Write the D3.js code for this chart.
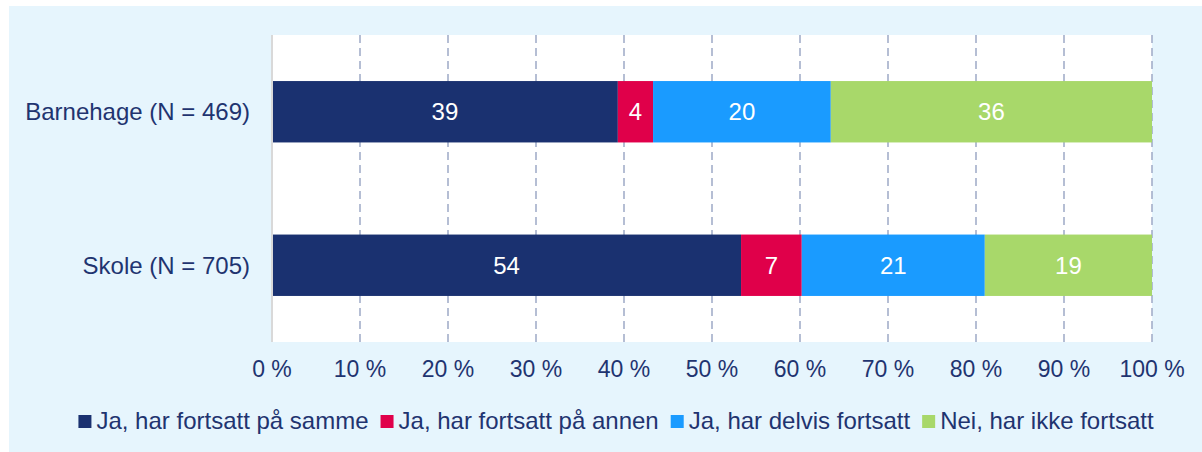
<!DOCTYPE html>
<html>
<head>
<meta charset="utf-8">
<script src="https://cdn.jsdelivr.net/npm/d3@7"></script>
<style>
  body { margin: 0; background: #fff; }
  text { font-family: "Liberation Sans", Arial, sans-serif; }
</style>
</head>
<body>
<div id="chart"></div>
<script>
const width = 1202;
const height = 452;
const margins = {left: 272, right: 50, top: 35, bottom: 110};

// data
const categories = ["Barnehage (N = 469)", "Skole (N = 705)"];
const seriesNames = ["Ja, har fortsatt på samme", "Ja, har fortsatt på annen", "Ja, har delvis fortsatt", "Nei, har ikke fortsatt"];
const colors = ["#1a3170", "#e0004a", "#1a9bff", "#a8d86a"];
const barnehageValues = [39.3, 4.0, 20.2, 36.5];
const skoleValues = [53.3, 6.9, 20.8, 19.0];
const barnehageLabels = ["39", "4", "20", "36"];
const skoleLabels = ["54", "7", "21", "19"];
const ticks = [0, 10, 20, 30, 40, 50, 60, 70, 80, 90, 100];

const rows = [
  {name: categories[0], values: barnehageValues, labels: barnehageLabels},
  {name: categories[1], values: skoleValues, labels: skoleLabels}
];

const textColor = "#1f3470";

const svg = d3.select("#chart")
  .append("svg")
    .attr("width", width)
    .attr("height", height);

// light blue panel
svg.append("rect")
  .attr("x", 9).attr("y", 6)
  .attr("width", width - 9).attr("height", height - 6)
  .attr("fill", "#e6f5fd");

// white plot area
svg.append("rect")
  .attr("x", margins.left).attr("y", margins.top)
  .attr("width", width - margins.left - margins.right)
  .attr("height", height - margins.top - margins.bottom)
  .attr("fill", "#fff");

const X_SCALE = d3.scaleLinear()
  .domain([0, 100])
  .range([margins.left, width - margins.right]);

const Y_SCALE = d3.scaleBand()
  .domain(categories)
  .range([margins.top, height - margins.bottom])
  .paddingInner(0.6)
  .paddingOuter(0.3);

// dashed gridlines
svg.append("g")
  .selectAll("line")
  .data(ticks.slice(1))
  .enter()
  .append("line")
    .attr("x1", d => X_SCALE(d)).attr("x2", d => X_SCALE(d))
    .attr("y1", margins.top).attr("y2", height - margins.bottom)
    .attr("stroke", "#a3aeca")
    .attr("stroke-width", 1.6)
    .attr("stroke-dasharray", "8,5");

// bars
rows.forEach(row => {
  let start = 0;
  const segs = row.values.map((v, i) => {
    const s = {x0: start, x1: start + v, color: colors[i], label: row.labels[i]};
    start += v;
    return s;
  });
  const g = svg.append("g");
  g.selectAll("rect")
    .data(segs)
    .enter()
    .append("rect")
      .attr("x", d => X_SCALE(d.x0))
      .attr("y", Y_SCALE(row.name))
      .attr("width", d => X_SCALE(d.x1) - X_SCALE(d.x0))
      .attr("height", Y_SCALE.bandwidth())
      .attr("fill", d => d.color);
  g.selectAll("text")
    .data(segs)
    .enter()
    .append("text")
      .attr("x", d => (X_SCALE(d.x0) + X_SCALE(d.x1)) / 2)
      .attr("y", Y_SCALE(row.name) + Y_SCALE.bandwidth() / 2)
      .attr("dy", "0.35em")
      .attr("text-anchor", "middle")
      .attr("fill", "#fff")
      .attr("font-size", "24px")
      .text(d => d.label);
});

// left axis line
svg.append("line")
  .attr("x1", margins.left).attr("x2", margins.left)
  .attr("y1", margins.top).attr("y2", height - margins.bottom)
  .attr("stroke", "#d9d9d9")
  .attr("stroke-width", 2);

// category labels
svg.append("g")
  .selectAll("text")
  .data(categories)
  .enter()
  .append("text")
    .attr("x", margins.left - 22)
    .attr("y", d => Y_SCALE(d) + Y_SCALE.bandwidth() / 2)
    .attr("dy", "0.35em")
    .attr("text-anchor", "end")
    .attr("fill", textColor)
    .attr("font-size", "24px")
    .text(d => d);

// x tick labels
svg.append("g")
  .selectAll("text")
  .data(ticks)
  .enter()
  .append("text")
    .attr("x", d => X_SCALE(d))
    .attr("y", 377)
    .attr("text-anchor", "middle")
    .attr("fill", textColor)
    .attr("font-size", "23px")
    .text(d => d + " %");

// legend
const legend = svg.append("g");
let lx = 0;
seriesNames.forEach((name, i) => {
  const item = legend.append("g").attr("transform", "translate(" + lx + ",0)");
  item.append("rect")
    .attr("x", 0).attr("y", 415)
    .attr("width", 13).attr("height", 13)
    .attr("fill", colors[i]);
  const t = item.append("text")
    .attr("x", 18).attr("y", 429)
    .attr("fill", textColor)
    .attr("font-size", "24px")
    .text(name);
  lx += 18 + t.node().getComputedTextLength() + 12;
});
const legendWidth = lx - 12;
legend.attr("transform", "translate(" + (616 - legendWidth / 2) + ",0)");
</script>
</body>
</html>
